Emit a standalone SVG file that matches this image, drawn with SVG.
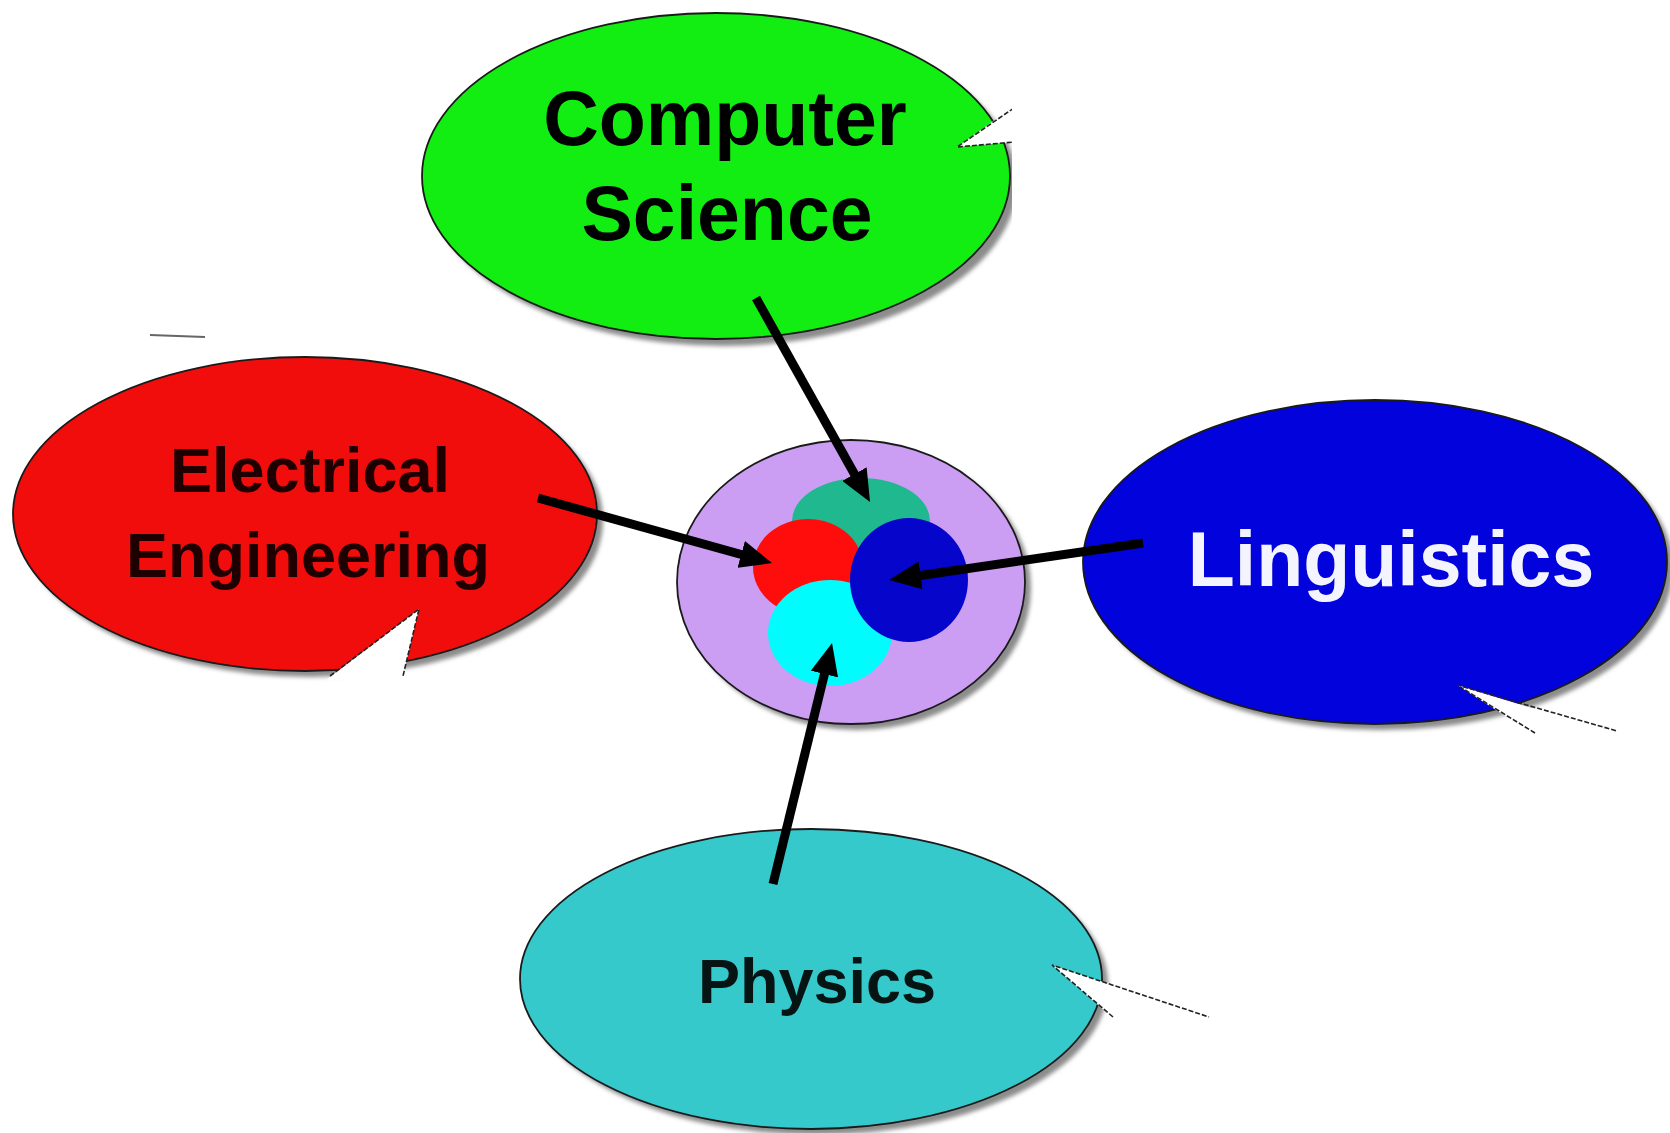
<svg xmlns="http://www.w3.org/2000/svg" width="1670" height="1133" viewBox="0 0 1670 1133">
<style>
.bub{stroke:#1a1a1a;stroke-width:1.8}
.shadow{fill:#8c8c8c;filter:url(#blur)}
.tail{fill:#fff;stroke:none}
.tl{stroke:#222;stroke-width:1.6;fill:none;stroke-dasharray:5 2}
.lbl{font-family:"Liberation Sans",Arial,sans-serif;font-weight:bold;text-anchor:middle}
.arr{stroke:#000;stroke-width:9;fill:none;marker-end:url(#ah)}
</style>
<defs>
<filter id="blur" x="-10%" y="-10%" width="120%" height="120%"><feGaussianBlur stdDeviation="2"/></filter>
<marker id="ah" viewBox="0 0 32 28" refX="2" refY="14" markerWidth="32" markerHeight="28" markerUnits="userSpaceOnUse" orient="auto">
<path d="M0,0 L32,14 L0,28 Z" fill="#000"/>
</marker>
<clipPath id="csclip"><rect x="0" y="0" width="1012" height="400"/></clipPath>
</defs>
<rect width="1670" height="1133" fill="#fff"/>

<g id="cs" clip-path="url(#csclip)">
<ellipse class="shadow" cx="723" cy="183" rx="294" ry="163"/>
<ellipse class="bub" cx="716" cy="176" rx="294" ry="163" fill="#12ee12"/>
<polygon class="tail" points="957,147 1014,106 1014,142"/>
<polyline class="tl" points="1014,108 957,147 1014,142"/>
<text class="lbl" x="725" y="145" font-size="77" fill="#000">Computer</text>
<text class="lbl" x="727" y="240" font-size="77" fill="#000">Science</text>
</g>

<g id="ee">
<line x1="150" y1="335" x2="205" y2="337" stroke="#666" stroke-width="2"/>
<ellipse class="shadow" cx="311" cy="520" rx="292" ry="157"/>
<ellipse class="bub" cx="305" cy="514" rx="292" ry="157" fill="#f20d0d"/>
<polygon class="tail" points="419,609 326,680 402,680"/>
<polyline class="tl" points="330,676 419,609 403,676"/>
<text class="lbl" x="310" y="492" font-size="63" fill="#1f0000">Electrical</text>
<text class="lbl" x="308" y="577" font-size="63" fill="#1f0000">Engineering</text>
</g>

<g id="ling">
<ellipse class="shadow" cx="1381" cy="568" rx="292" ry="162"/>
<ellipse class="bub" cx="1375" cy="562" rx="292" ry="162" fill="#0202dc"/>
<polygon class="tail" points="1457,685 1535,735 1619,735"/>
<polyline class="tl" points="1535,733 1457,685 1617,731"/>
<text class="lbl" x="1391" y="586" font-size="77" fill="#f4f4ff">Linguistics</text>
</g>

<g id="phys">
<ellipse class="shadow" cx="817" cy="985" rx="291" ry="150"/>
<ellipse class="bub" cx="811" cy="979" rx="291" ry="150" fill="#35c9cc"/>
<polygon class="tail" points="1052,965 1113,1018 1212,1018"/>
<polyline class="tl" points="1113,1017 1052,965 1209,1017"/>
<text class="lbl" x="817" y="1003" font-size="63" fill="#061414">Physics</text>
</g>

<g id="center">
<ellipse class="shadow" cx="857" cy="588" rx="174" ry="142"/>
<ellipse class="bub" cx="851" cy="582" rx="174" ry="142" fill="#cb9ef4"/>
<ellipse cx="861" cy="521" rx="69" ry="43" fill="#20b88e"/>
<ellipse cx="808" cy="567" rx="55" ry="48" fill="#ff0d0d"/>
<ellipse cx="830" cy="633" rx="62" ry="53" fill="#00fcfc"/>
<ellipse cx="909" cy="580" rx="59" ry="62" fill="#0505cc"/>
</g>

<g id="connectors">
<line class="arr" x1="756" y1="298" x2="855.4" y2="475.8"/>
<line class="arr" x1="538" y1="498" x2="743.1" y2="555"/>
<line class="arr" x1="1143" y1="543" x2="918.7" y2="575.7"/>
<line class="arr" x1="773" y1="884" x2="824.9" y2="672.1"/>
</g>
</svg>
